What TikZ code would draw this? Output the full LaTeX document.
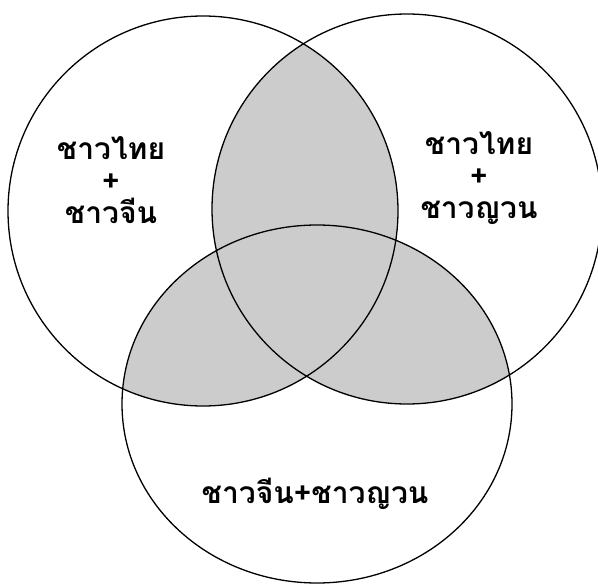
\documentclass[tikz,border=0pt]{standalone}
\usepackage{fontspec}
\newfontfamily\thaifont[Script=Thai]{Loma}

\begin{document}
\begin{tikzpicture}[x=1pt, y=-1pt,
	every node/.style={font=\thaifont\bfseries\fontsize{30}{32}\selectfont, align=center},
	ring/.style={draw=black, line width=1.3pt},
	overlap/.style={fill=gray!40}]
	\useasboundingbox (0,0) rectangle (598,586);
	\coordinate (thai) at (203,211);
	\coordinate (yuan) at (407,209);
	\coordinate (chinese) at (317,404);
	% shaded pairwise overlaps
	\begin{scope}
		\clip (thai) circle [radius=195];
		\fill[overlap] (yuan) circle [radius=195];
		\fill[overlap] (chinese) circle [x radius=195, y radius=179];
	\end{scope}
	\begin{scope}
		\clip (yuan) circle [radius=195];
		\fill[overlap] (chinese) circle [x radius=195, y radius=179];
	\end{scope}
	\draw[ring] (thai) circle [radius=195];
	\draw[ring] (yuan) circle [radius=195];
	\draw[ring] (chinese) circle [x radius=195, y radius=179];
	\node (thaichinese) at (111,180) {ชาวไทย\\+\\ชาวจีน};
	\node (thaiyuan) at (479,178) {ชาวไทย\\+\\ชาวญวน};
	\node (chineseyuan) at (315,494) {ชาวจีน+ชาวญวน};
	
\end{tikzpicture}
\end{document}
